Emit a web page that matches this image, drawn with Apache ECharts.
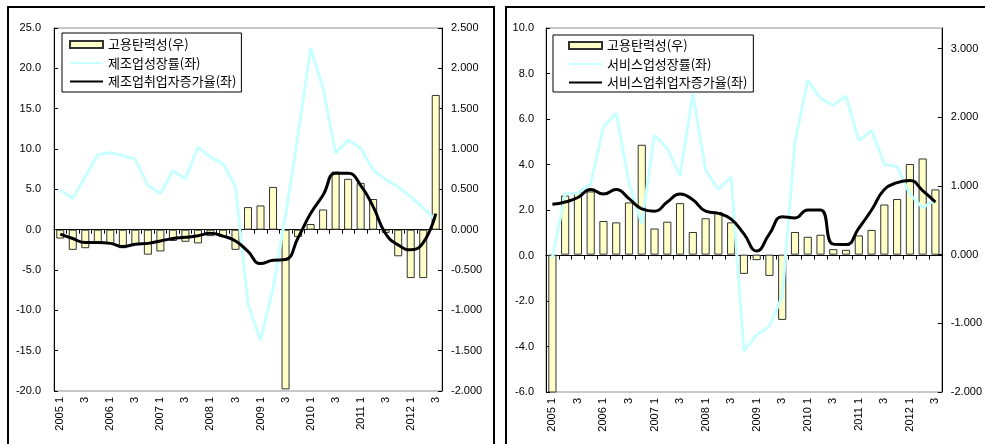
<!DOCTYPE html>
<html>
<head>
<meta charset="utf-8">
<script src="https://cdn.jsdelivr.net/npm/echarts@6/dist/echarts.min.js"></script>
<style>
  html, body { margin: 0; padding: 0; background: #fff; }
  #chart { width: 985px; height: 444px; }
</style>
</head>
<body>
<div id="chart"></div>
<script>
// Quarterly categories, 2005 Q1 – 2012 Q3
const quarterLabels = [
  '2005 1', '2', '3', '4',
  '2006 1', '2', '3', '4',
  '2007 1', '2', '3', '4',
  '2008 1', '2', '3', '4',
  '2009 1', '2', '3', '4',
  '2010 1', '2', '3', '4',
  '2011 1', '2', '3', '4',
  '2012 1', '2', '3'
];

// Manufacturing panel
const mfgElasticity = [-0.11, -0.25, -0.23, -0.17, -0.17, -0.23, -0.19, -0.31, -0.27, -0.14, -0.15, -0.17, -0.08, -0.09, -0.25, 0.28,
  0.30, 0.53, -1.98, -0.09, 0.07, 0.25, 0.72, 0.63, 0.58, 0.38, -0.04, -0.33, -0.60, -0.60, 1.67];
const mfgGrowth = [4.9, 3.9, 6.6, 9.3, 9.55, 9.2, 8.7, 5.5, 4.5, 7.3, 6.3, 10.2, 9.0, 8.2, 5.3, -9.2,
  -13.7, -7.3, 1.8, 11.8, 22.5, 17.5, 9.5, 11.1, 10.1, 7.4, 6.2, 5.3, 4.1, 2.7, 1.2];
const mfgEmployment = [-0.55, -1.1, -1.6, -1.6, -1.7, -2.1, -1.8, -1.7, -1.4, -1.1, -0.95, -0.75, -0.45, -0.8, -1.4, -2.7,
  -4.2, -3.8, -3.7, -1.0, 2.0, 4.3, 7.0, 7.0, 5.5, 2.85, -0.5, -1.9, -2.5, -1.6, 2.0];

// Services panel
const svcElasticity = [-2.3, 0.86, 0.91, 0.92, 0.49, 0.47, 0.76, 1.6, 0.38, 0.48, 0.75, 0.33, 0.53, 0.62, 0.47, -0.28,
  -0.08, -0.31, -0.95, 0.33, 0.26, 0.29, 0.08, 0.07, 0.28, 0.36, 0.73, 0.81, 1.32, 1.40, 0.95];
const svcGrowth = [-0.1, 2.7, 2.75, 3.15, 5.65, 6.25, 3.2, 1.4, 5.3, 4.7, 3.5, 7.1, 3.75, 2.9, 3.45, -4.2,
  -3.5, -3.1, -1.8, 5.0, 7.7, 6.9, 6.6, 7.0, 5.05, 5.5, 4.0, 3.9, 2.7, 2.1, 2.45];
const svcEmployment = [2.25, 2.35, 2.55, 2.9, 2.7, 2.9, 2.5, 2.05, 1.95, 2.35, 2.7, 2.45, 1.95, 1.85, 1.6, 0.95,
  0.2, 0.95, 1.7, 1.65, 2.0, 2.0, 0.5, 0.48, 1.2, 2.0, 2.9, 3.2, 3.3, 2.85, 2.35];

const NAME_ELASTIC = '고용탄력성(우)';
const NAME_MFG_GROWTH = '제조업성장률(좌)';
const NAME_MFG_EMP = '제조업취업자증가율(좌)';
const NAME_SVC_GROWTH = '서비스업성장률(좌)';
const NAME_SVC_EMP = '서비스업취업자증가율(좌)';

const NUM_FONT = 'Liberation Sans, Arial, sans-serif';
const KR_FONT = 'Noto Sans CJK KR, sans-serif';
const BAR_FILL = '#FFFFC8';
const CYAN = '#C8FFFF';

function labelAxis(grid) {
  return {
    type: 'category', gridIndex: grid, data: quarterLabels, position: 'bottom',
    boundaryGap: true,
    axisLine: { show: false, onZero: false },
    axisTick: { show: false },
    axisLabel: { interval: 1, rotate: 90, margin: 6, fontSize: 11, fontFamily: NUM_FONT, color: '#000' },
    splitLine: { show: false }
  };
}
function zeroAxis(grid) {
  return {
    type: 'category', gridIndex: grid, data: quarterLabels, position: 'bottom',
    boundaryGap: true,
    axisLine: { show: true, onZero: true, lineStyle: { color: '#000', width: 1 } },
    axisTick: { show: true, inside: false, length: 4, interval: 0, lineStyle: { color: '#000' } },
    axisLabel: { show: false },
    splitLine: { show: false }
  };
}
function valueAxis(grid, pos, min, max, interval, digits, margin, custom) {
  const ax = {
    type: 'value', gridIndex: grid, position: pos, min: min, max: max, interval: interval,
    axisLine: { show: true, lineStyle: { color: '#000', width: 1 } },
    axisTick: { show: true, inside: true, length: 4, lineStyle: { color: '#000' } },
    axisLabel: {
      margin: margin, fontSize: 11, fontFamily: NUM_FONT, color: '#000',
      formatter: v => v.toFixed(digits)
    },
    splitLine: { show: false }
  };
  if (custom) {
    ax.axisLabel.customValues = custom;
    ax.axisTick.customValues = custom;
  }
  return ax;
}
// Legend: bar swatch plus plain line swatches (no point marker)
function legendFor(left, top, names, padding, textWidth) {
  return {
    left: left, top: top, orient: 'vertical',
    data: [
      { name: names[0], icon: 'rect' },
      { name: names[1], itemStyle: { opacity: 0 } },
      { name: names[2], itemStyle: { opacity: 0 } }
    ],
    itemWidth: 33, itemHeight: 7, itemGap: 5.5, padding: padding,
    borderColor: '#000', borderWidth: 1, backgroundColor: '#fff',
    selectedMode: false,
    textStyle: { fontFamily: KR_FONT, fontSize: 13, color: '#000', width: textWidth }
  };
}
function barSeries(x, y, data) {
  return {
    name: NAME_ELASTIC, type: 'bar', xAxisIndex: x, yAxisIndex: y, data: data,
    barCategoryGap: '36%', clip: true,
    itemStyle: { color: BAR_FILL, borderColor: '#333', borderWidth: 1 },
    z: 2
  };
}
function lineSeries(name, x, y, data, color, smooth) {
  return {
    name: name, type: 'line', xAxisIndex: x, yAxisIndex: y, data: data,
    symbol: 'none', smooth: smooth,
    lineStyle: { color: color, width: 3 }, itemStyle: { color: color },
    z: 3
  };
}

const chart = echarts.init(document.getElementById('chart'), null, { renderer: 'canvas' });
chart.setOption({
  animation: false,
  backgroundColor: '#fff',
  grid: [
    { left: 54, right: 543, top: 28, bottom: 53, show: true, borderColor: '#909090', borderWidth: 1, backgroundColor: 'transparent' },
    { left: 546, right: 43, top: 28, bottom: 52, show: true, borderColor: '#909090', borderWidth: 1, backgroundColor: 'transparent' }
  ],
  xAxis: [labelAxis(0), zeroAxis(0), labelAxis(1), zeroAxis(1)],
  yAxis: [
    valueAxis(0, 'left', -20, 25, 5, 1, 13),
    valueAxis(0, 'right', -2, 2.5, 0.5, 3, 9),
    valueAxis(1, 'left', -6, 10, 2, 1, 12),
    valueAxis(1, 'right', -2, 3.3, 1, 3, 9, [-2, -1, 0, 1, 2, 3])
  ],
  legend: [
    legendFor(62, 33, [NAME_ELASTIC, NAME_MFG_GROWTH, NAME_MFG_EMP], [5, 5, 4, 7], 144),
    legendFor(553, 35, [NAME_ELASTIC, NAME_SVC_GROWTH, NAME_SVC_EMP], [4, 6, 3, 15], 155)
  ],
  graphic: [
    { type: 'rect', silent: true, shape: { x: 8, y: 7, width: 486, height: 460 },
      style: { fill: 'none', stroke: '#000', lineWidth: 2 } },
    { type: 'rect', silent: true, shape: { x: 506, y: 7, width: 500, height: 460 },
      style: { fill: 'none', stroke: '#000', lineWidth: 2 } }
  ],
  series: [
    barSeries(0, 1, mfgElasticity),
    lineSeries(NAME_MFG_GROWTH, 0, 0, mfgGrowth, CYAN, false),
    lineSeries(NAME_MFG_EMP, 0, 0, mfgEmployment, '#000', 0.5),
    barSeries(2, 3, svcElasticity),
    lineSeries(NAME_SVC_GROWTH, 2, 2, svcGrowth, CYAN, false),
    lineSeries(NAME_SVC_EMP, 2, 2, svcEmployment, '#000', 0.5)
  ]
});
</script>
</body>
</html>
